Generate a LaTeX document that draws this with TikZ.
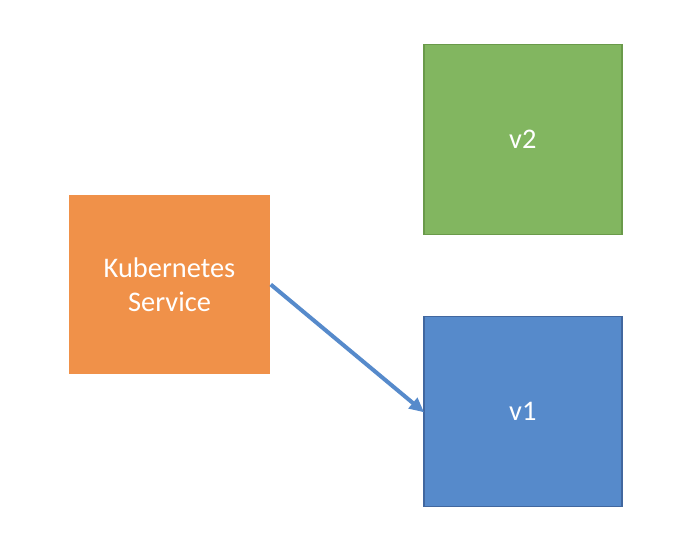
\documentclass[tikz,border=0pt]{standalone}
\usepackage{fontspec}
\setmainfont{Carlito}
\usepackage{xcolor}
\usetikzlibrary{arrows.meta}
\definecolor{svcorange}{HTML}{F09149}
\definecolor{vtwogreen}{HTML}{82B660}
\definecolor{vtwoedge}{HTML}{6A9A4A}
\definecolor{voneblue}{HTML}{568ACB}
\definecolor{voneedge}{HTML}{41679F}

\begin{document}
\begin{tikzpicture}[x=0.75pt, y=-0.75pt, font=\fontsize{21.3}{25.5}\selectfont,
    box/.style={text=white, align=center, inner sep=0pt, line width=1.1pt},
    route/.style={-{Triangle[length=11pt, width=10pt]}, line width=3pt, draw=voneblue, shorten >=-1pt}]
            \useasboundingbox (0,0) rectangle (674,552);
            \node[box, fill=svcorange, minimum width=150.75pt, minimum height=134.25pt] (svc) at (169.5,284.5) {Kubernetes\\Service};

            \node[box, fill=vtwogreen, draw=vtwoedge, minimum width=148.5pt, minimum height=142.5pt] (vtwo) at (522.8,139.5) {v2};
            \node[box, fill=voneblue, draw=voneedge, minimum width=148.5pt, minimum height=142.5pt] (vone) at (522.8,411.5) {v1};

            \draw[route] (svc.east) -- (vone.west);
        \end{tikzpicture}
\end{document}
